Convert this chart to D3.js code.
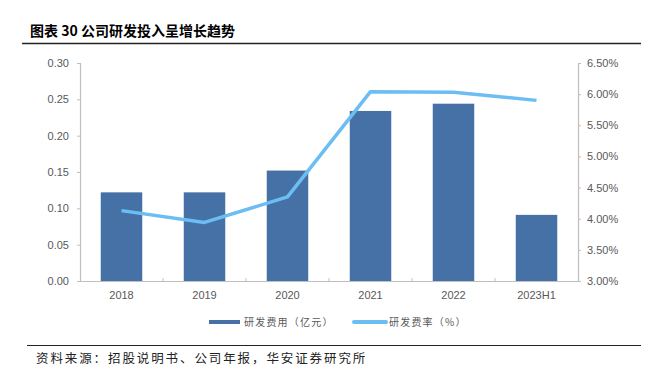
<!DOCTYPE html>
<html><head><meta charset="utf-8">
<script src="https://cdn.jsdelivr.net/npm/d3@7"></script>
<style>body{margin:0;background:#fff}svg{display:block}</style>
</head><body><svg id="c" width="648" height="374"></svg>
<script>
const categories = ["2018","2019","2020","2021","2022","2023H1"];
const rdExpense = [0.122, 0.122, 0.152, 0.234, 0.244, 0.091];
const rdRatio = [4.13, 3.94, 4.35, 6.04, 6.03, 5.90];
const leftTicks = [0,0.05,0.10,0.15,0.20,0.25,0.30];
const rightTicks = [3.0,3.5,4.0,4.5,5.0,5.5,6.0,6.5];
const title = "图表 30 公司研发投入呈增长趋势";
const source = "资料来源：招股说明书、公司年报，华安证券研究所";
const seriesNames = ["研发费用（亿元）","研发费率（%）"];

const svg = d3.select("#c");
const M = {l:80, r:578, t:63, b:281};
const barColor = "#4571A6", lineColor = "#6CBEF2", axisColor = "#BFBFBF", txt = "#595959";
const sans = "Liberation Sans, Arial, sans-serif";
const cjk = "Noto Sans CJK SC, sans-serif";

// title
svg.append("text").attr("x",30).attr("y",36).attr("font-family",cjk).attr("font-weight","bold")
  .attr("font-size",14).attr("fill","#000").text(title);
svg.append("line").attr("x1",22).attr("x2",641).attr("y1",43.5).attr("y2",43.5).attr("stroke","#222").attr("stroke-width",1.3);
svg.append("line").attr("x1",27).attr("x2",641).attr("y1",345.5).attr("y2",345.5).attr("stroke","#222").attr("stroke-width",1);
svg.append("text").attr("x",36).attr("y",363).attr("font-family",cjk).attr("font-size",12.5)
  .attr("letter-spacing",1.9).attr("fill","#222").text(source);

const x = d3.scaleBand().domain(categories).range([M.l,M.r]).paddingInner(0.5).paddingOuter(0.25);
const xc = d3.scaleBand().domain(categories).range([M.l,M.r]);
const yL = d3.scaleLinear().domain([0,0.30]).range([M.b,M.t]);
const yR = d3.scaleLinear().domain([3.0,6.5]).range([M.b,M.t]);

// bars
svg.append("g").selectAll("rect").data(categories).join("rect")
  .attr("x",d=>x(d)).attr("width",x.bandwidth())
  .attr("y",(d,i)=>yL(rdExpense[i])).attr("height",(d,i)=>M.b-yL(rdExpense[i]))
  .attr("fill",barColor);

// left axis
const gL = svg.append("g").attr("transform",`translate(${M.l},0)`)
  .call(d3.axisLeft(yL).tickValues(leftTicks).tickFormat(d3.format(".2f")).tickSize(3).tickPadding(8));
// right axis
const gR = svg.append("g").attr("transform",`translate(${M.r},0)`)
  .call(d3.axisRight(yR).tickValues(rightTicks).tickFormat(d=>d3.format(".2f")(d)+"%").tickSize(3).tickPadding(6));
// bottom axis
const gB = svg.append("g").attr("transform",`translate(0,${M.b})`)
  .call(d3.axisBottom(xc).tickSize(0).tickPadding(10));
gB.selectAll(".tick line").remove();
// category boundary ticks (inward)
svg.append("g").selectAll("line").data(categories.slice(1)).join("line")
  .attr("x1",d=>xc(d)).attr("x2",d=>xc(d)).attr("y1",M.b-3).attr("y2",M.b).attr("stroke",axisColor);

[gL,gR,gB].forEach(g=>{
  g.selectAll("path.domain").attr("stroke",axisColor).attr("stroke-width",1.2);
  g.selectAll(".tick line").attr("stroke",axisColor);
  g.selectAll("text").attr("fill",txt).attr("font-family",sans).attr("font-size",11);
});
gB.select("path.domain").attr("d",`M${M.l},0.5H${M.r}`);

// line
const line = d3.line().x((d,i)=>xc(categories[i])+xc.bandwidth()/2).y(d=>yR(d));
svg.append("path").datum(rdRatio).attr("d",line).attr("fill","none")
  .attr("stroke",lineColor).attr("stroke-width",3.5).attr("stroke-linejoin","round");

// legend
const lg = svg.append("g");
lg.append("rect").attr("x",209).attr("y",320).attr("width",31).attr("height",4).attr("fill",barColor);
lg.append("text").attr("x",244).attr("y",326).attr("font-family",cjk).attr("font-size",10)
  .attr("letter-spacing",1.2).attr("fill",txt).text(seriesNames[0]);
lg.append("line").attr("x1",354).attr("x2",386).attr("y1",322).attr("y2",322).attr("stroke",lineColor).attr("stroke-width",4).attr("stroke-linecap","round");
lg.append("text").attr("x",389).attr("y",326).attr("font-family",cjk).attr("font-size",10)
  .attr("letter-spacing",1.2).attr("fill",txt).text(seriesNames[1]);
</script></body></html>
